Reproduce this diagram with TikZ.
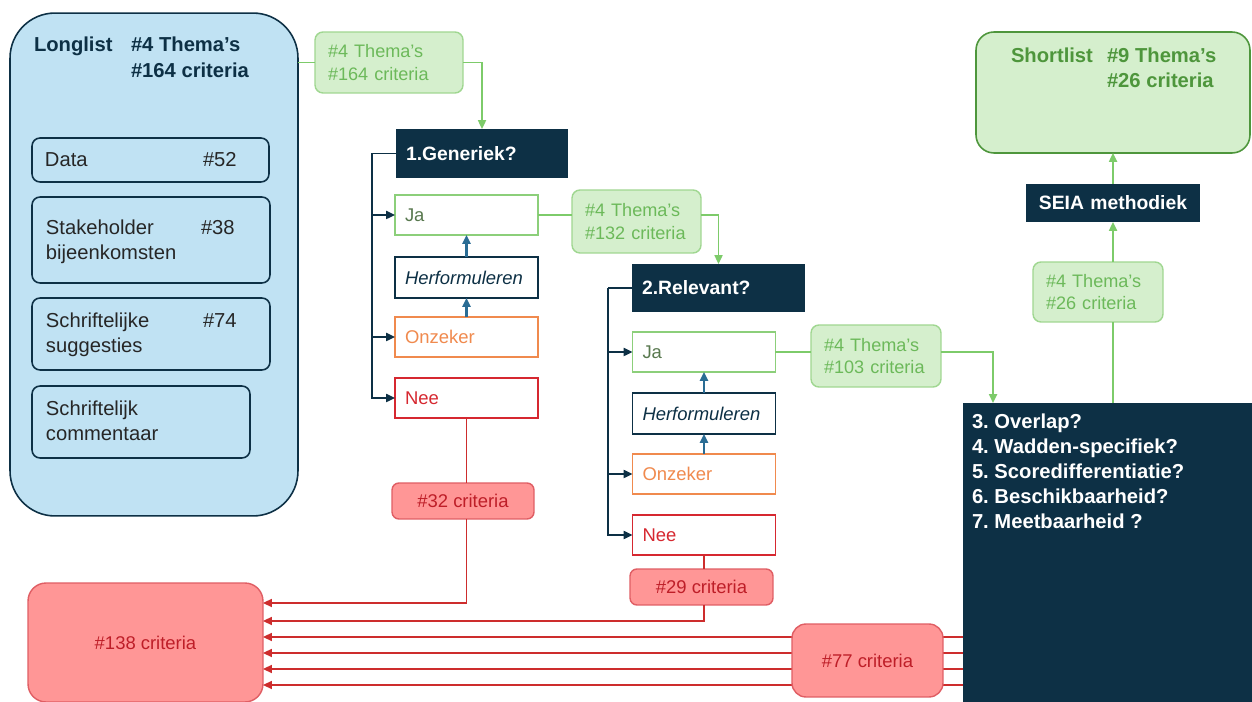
\documentclass[tikz,border=0pt]{standalone}
\usepackage{fontspec}
\setmainfont{Liberation Sans}
\usetikzlibrary{arrows.meta}
\definecolor{cnavy}{RGB}{13,48,69}
\definecolor{clblue}{RGB}{192,226,243}
\definecolor{clgreen}{RGB}{213,239,205}
\definecolor{cgbord}{RGB}{160,215,145}
\definecolor{cgtext}{RGB}{108,185,90}
\definecolor{cgline}{RGB}{125,203,106}
\definecolor{csgreen}{RGB}{78,150,60}
\definecolor{cjab}{RGB}{140,207,122}
\definecolor{cjat}{RGB}{88,120,78}
\definecolor{corng}{RGB}{240,138,78}
\definecolor{credb}{RGB}{214,40,48}
\definecolor{credt}{RGB}{190,30,40}
\definecolor{csalmon}{RGB}{255,150,150}
\definecolor{credl}{RGB}{205,45,45}
\definecolor{csteel}{RGB}{42,108,148}

\begin{document}
\frenchspacing
\begin{tikzpicture}[x=0.02cm, y=-0.02cm, >={Triangle[length=5pt,width=4.5pt]},
  every node/.style={inner sep=0pt, outer sep=0pt},
  big/.style={draw=cnavy, fill=clblue, line width=0.9pt, rounded corners=0.9cm},
  src/.style={draw=cnavy, fill=clblue, line width=0.9pt, rounded corners=0.16cm},
  txt/.style={anchor=base west, text=black!85, font=\fontsize{11.5}{14}\selectfont},
  hd/.style={anchor=base west, text=cnavy, font=\bfseries\fontsize{11.5}{14}\selectfont},
  shd/.style={anchor=base west, text=csgreen, font=\bfseries\fontsize{11.5}{14}\selectfont},
  lab/.style={draw=cgbord, fill=clgreen, text=cgtext, line width=0.8pt, rounded corners=0.16cm, align=left, inner xsep=0.26cm, font=\fontsize{10.3}{12.6}\selectfont},
  quest/.style={fill=cnavy, text=white, align=left, inner xsep=0.2cm, font=\bfseries\fontsize{11}{13}\selectfont},
  opt/.style={fill=white, line width=0.9pt, align=left, inner xsep=0.2cm, text width=2.46cm, minimum height=0.8cm, font=\fontsize{10.5}{13}\selectfont},
  ja/.style={opt, draw=cjab, text=cjat},
  herf/.style={opt, draw=cnavy, text=cnavy, minimum height=0.82cm, font=\itshape\fontsize{10.5}{13}\selectfont},
  onz/.style={opt, draw=corng, text=corng},
  nee/.style={opt, draw=credb, text=credb},
  rbox/.style={draw=credb!75, fill=csalmon, text=credt, line width=0.8pt, rounded corners=0.14cm, font=\fontsize{10.5}{13}\selectfont},
  gline/.style={draw=cgline, line width=1.1pt},
  nline/.style={draw=cnavy, line width=1.1pt},
  bline/.style={draw=csteel, line width=1.3pt},
  rline/.style={draw=credl, line width=0.9pt}]
\fill[white] (0,0) rectangle (1252,702);
\useasboundingbox (0,0) rectangle (1252,702);

\node[big, minimum width=5.76cm, minimum height=10.06cm] (ll) at (154,264.5) {};
\node[hd] (llname) at (34,52) {Longlist};
\node[hd] (llthema) at (131,52) {\#4 Thema’s};
\node[hd] (llcrit) at (131,78) {\#164 criteria};

\node[src, minimum width=4.74cm, minimum height=0.88cm] (data) at (150.5,160) {};
\node[txt] (datat) at (45,167) {Data};
\node[txt] (datan) at (203,167) {\#52};
\node[src, minimum width=4.76cm, minimum height=1.72cm] (stake) at (151,240) {};
\node[txt] (staket) at (46,235) {Stakeholder};
\node[txt] (staken) at (201,235) {\#38};
\node[txt] (staket2) at (46,260) {bijeenkomsten};
\node[src, minimum width=4.76cm, minimum height=1.44cm] (sugg) at (151,334) {};
\node[txt] (suggt) at (46,328) {Schriftelijke};
\node[txt] (suggn) at (203,328) {\#74};
\node[txt] (suggt2) at (46,353) {suggesties};
\node[src, minimum width=4.36cm, minimum height=1.44cm] (comm) at (141,422) {};
\node[txt] (commt) at (46,416) {Schriftelijk};
\node[txt] (commt2) at (46,441) {commentaar};

\node[lab, text width=2.44cm, minimum height=1.22cm] (lab1) at (389,62.5) {\#4 Thema’s\\\#164 criteria};
\node[lab, text width=2.06cm, minimum height=1.26cm] (lab2) at (636.5,221.5) {\#4 Thema’s\\\#132 criteria};
\node[lab, text width=2.08cm, minimum height=1.24cm] (lab3) at (876,356) {\#4 Thema’s\\\#103 criteria};
\node[lab, text width=2.08cm, minimum height=1.2cm] (lab4) at (1098,292) {\#4 Thema’s\\\#26 criteria};

\node[quest, text width=3.04cm, minimum height=0.98cm] (gen) at (482,153.5) {1.Generiek?};
\node[ja] (ja1) at (466.5,215) {Ja};
\node[herf] (herf1) at (466.5,277.5) {Herformuleren};
\node[onz] (onz1) at (466.5,337) {Onzeker};
\node[nee] (nee1) at (466.5,398) {Nee};

\node[quest, text width=3.06cm, minimum height=0.96cm] (rel) at (718.5,288) {2.Relevant?};
\node[ja] (ja2) at (704,352) {Ja};
\node[herf] (herf2) at (704,413.5) {Herformuleren};
\node[onz] (onz2) at (704,474) {Onzeker};
\node[nee] (nee2) at (704,535) {Nee};

\node[draw=csgreen, fill=clgreen, line width=0.9pt, rounded corners=0.36cm, minimum width=5.48cm, minimum height=2.42cm] (sl) at (1113,92.5) {};
\node[shd] (slname) at (1011,63) {Shortlist};
\node[shd] (slthema) at (1107,63) {\#9 Thema’s};
\node[shd] (slcrit) at (1107,88) {\#26 criteria};
\node[quest, align=center, text width=3.08cm, minimum height=0.76cm] (seia) at (1113,203) {SEIA methodiek};

\node[fill=cnavy, minimum width=5.78cm, minimum height=5.98cm] (dark) at (1107.5,552.5) {};
\node[anchor=north west, align=left, text=white, font=\bfseries\fontsize{11.5}{14.2}\selectfont] (crit) at (972,414)
  {3. Overlap?\\4. Wadden-specifiek?\\5. Scoredifferentiatie?\\6. Beschikbaarheid?\\7. Meetbaarheid ?};
\coordinate (drop) at ([xshift=0.6cm]dark.north west);

\node[rbox, minimum width=2.84cm, minimum height=0.72cm] (c32) at (463,501) {\#32 criteria};
\node[rbox, minimum width=2.86cm, minimum height=0.72cm] (c29) at (701.5,587) {\#29 criteria};
\node[rbox, minimum width=4.7cm, minimum height=2.38cm, rounded corners=0.36cm] (c138) at (145.5,642.5) {\#138 criteria};

\draw[gline] (ll.east |- lab1.west) -- (lab1.west);
\draw[gline,->] (lab1.east) -| (gen.north);
\draw[gline] (ja1.east) -- (ja1.east -| lab2.west);
\draw[gline,->] (lab2.east |- ja1.east) -| (rel.north);
\draw[gline] (ja2.east) -- (ja2.east -| lab3.west);
\draw[gline,->] (lab3.east |- ja2.east) -| (drop);
\draw[gline] (dark.north -| seia.south) -- (lab4.south -| seia.south);
\draw[gline,->] (lab4.north -| seia.south) -- (seia.south);
\draw[gline,->] (seia.north) -- (sl.south);

\draw[nline] (gen.west) -- ++(-24,0) coordinate (b1);
\draw[nline,->] (b1) |- (nee1.west);
\draw[nline,->] (b1 |- ja1.west) -- (ja1.west);
\draw[nline,->] (b1 |- onz1.west) -- (onz1.west);
\draw[nline] (rel.west) -- ++(-24,0) coordinate (b2);
\draw[nline,->] (b2) |- (nee2.west);
\draw[nline,->] (b2 |- ja2.west) -- (ja2.west);
\draw[nline,->] (b2 |- onz2.west) -- (onz2.west);

\draw[bline,->] (herf1.north) -- (ja1.south);
\draw[bline,->] (onz1.north) -- (herf1.south);
\draw[bline,->] (herf2.north) -- (ja2.south);
\draw[bline,->] (onz2.north) -- (herf2.south);

\draw[rline] (nee1.south) -- (nee1.south |- c32.north);
\draw[rline,->] (nee1.south |- c32.south) |- (c138.east |- 0,603);
\draw[rline] (nee2.south) -- (nee2.south |- c29.north);
\draw[rline,->] (nee2.south |- c29.south) |- (c138.east |- 0,621);
\foreach \yy in {637,653,669,685}
  \draw[rline,->] (dark.west |- 0,\yy) -- (c138.east |- 0,\yy);

\node[rbox, minimum width=3.02cm, minimum height=1.46cm, rounded corners=0.28cm] (c77) at (867.5,660.5) {\#77 criteria};
\end{tikzpicture}
\end{document}
